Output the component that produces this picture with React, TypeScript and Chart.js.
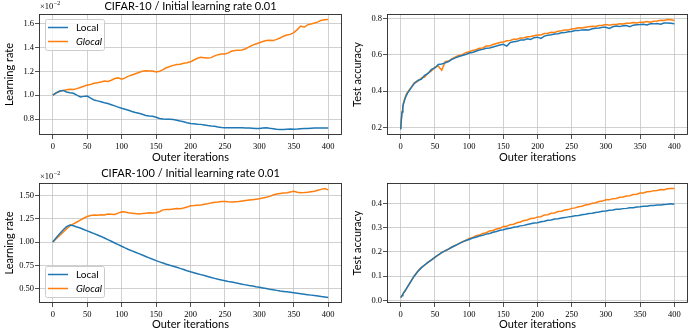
import React, { useEffect, useRef } from "react";
import { Chart, registerables } from "chart.js";
Chart.register(...registerables);

// ---------- data ----------
const ITERS_LR = Array.from({ length: 81 }, (_, i) => i * 5);
const ITERS_ACC = [0, 1, 2, 3, 4, 6, 8].concat(Array.from({ length: 79 }, (_, i) => 10 + i * 5));
const X_TICKS = [0, 50, 100, 150, 200, 250, 300, 350, 400];

const TL_Y_TICKS = [0.8, 1.0, 1.2, 1.4, 1.6];
const TR_Y_TICKS = [0.2, 0.4, 0.6, 0.8];
const BL_Y_TICKS = [0.5, 0.75, 1.0, 1.25, 1.5];
const BR_Y_TICKS = [0.0, 0.1, 0.2, 0.3, 0.4];

const SERIES_NAMES = ["Local", "Glocal"];

// CIFAR-10 learning rate (x 1e-2)
const C10_LR_LOCAL = [
  1.0, 1.02, 1.035, 1.04, 1.027, 1.02, 1.016, 1.0, 0.985, 0.99, 0.993, 0.975, 0.96, 0.952, 0.945, 0.937,
  0.93, 0.92, 0.91, 0.9, 0.89, 0.882, 0.873, 0.863, 0.855, 0.848, 0.84, 0.83, 0.825, 0.823, 0.815, 0.805,
  0.8, 0.798, 0.797, 0.795, 0.79, 0.783, 0.777, 0.768, 0.763, 0.76, 0.757, 0.755, 0.75, 0.745, 0.742, 0.74,
  0.733, 0.729, 0.727, 0.727, 0.727, 0.726, 0.726, 0.727, 0.725, 0.724, 0.722, 0.72, 0.72, 0.724, 0.727,
  0.722, 0.718, 0.714, 0.712, 0.713, 0.715, 0.716, 0.715, 0.716, 0.718, 0.72, 0.72, 0.722, 0.724, 0.725,
  0.724, 0.725, 0.724,
];
const C10_LR_GLOCAL = [
  1.0, 1.02, 1.03, 1.04, 1.045, 1.05, 1.048, 1.055, 1.065, 1.075, 1.085, 1.09, 1.1, 1.105, 1.11, 1.118,
  1.115, 1.125, 1.14, 1.145, 1.135, 1.145, 1.16, 1.17, 1.18, 1.19, 1.2, 1.205, 1.203, 1.202, 1.195, 1.2,
  1.215, 1.23, 1.24, 1.25, 1.258, 1.26, 1.268, 1.272, 1.28, 1.295, 1.31, 1.318, 1.315, 1.312, 1.315, 1.33,
  1.34, 1.345, 1.345, 1.355, 1.37, 1.375, 1.378, 1.38, 1.39, 1.405, 1.42, 1.43, 1.44, 1.45, 1.458, 1.46,
  1.458, 1.468, 1.48, 1.495, 1.505, 1.51, 1.525, 1.55, 1.58, 1.57, 1.59, 1.598, 1.605, 1.615, 1.628, 1.632,
  1.635,
];

// CIFAR-10 test accuracy
const C10_ACC_LOCAL = [
  0.19, 0.245, 0.285, 0.31, 0.33, 0.355, 0.375,
  0.39, 0.417, 0.443, 0.46, 0.466, 0.487, 0.498, 0.52, 0.528, 0.547, 0.55, 0.556, 0.563, 0.576, 0.583,
  0.591, 0.596, 0.602, 0.61, 0.613, 0.62, 0.626, 0.63, 0.636, 0.638, 0.643, 0.648, 0.654, 0.658, 0.648,
  0.667, 0.672, 0.674, 0.681, 0.681, 0.688, 0.684, 0.694, 0.697, 0.69, 0.703, 0.708, 0.71, 0.714, 0.716,
  0.721, 0.722, 0.727, 0.728, 0.733, 0.733, 0.737, 0.738, 0.736, 0.743, 0.746, 0.747, 0.751, 0.751, 0.745,
  0.754, 0.758, 0.755, 0.76, 0.761, 0.755, 0.763, 0.765, 0.766, 0.768, 0.764, 0.77, 0.77, 0.772, 0.768,
  0.775, 0.775, 0.774, 0.771,
];
const C10_ACC_GLOCAL = [
  0.195, 0.25, 0.29, 0.315, 0.335, 0.36, 0.38,
  0.395, 0.42, 0.447, 0.455, 0.472, 0.478, 0.5, 0.512, 0.532, 0.538, 0.515, 0.562, 0.566, 0.578, 0.588,
  0.597, 0.601, 0.612, 0.617, 0.624, 0.628, 0.636, 0.638, 0.648, 0.649, 0.657, 0.662, 0.668, 0.67, 0.677,
  0.679, 0.685, 0.686, 0.693, 0.693, 0.699, 0.701, 0.705, 0.709, 0.709, 0.717, 0.719, 0.724, 0.723, 0.729,
  0.732, 0.737, 0.736, 0.742, 0.744, 0.748, 0.747, 0.751, 0.754, 0.757, 0.756, 0.761, 0.763, 0.766, 0.762,
  0.766, 0.767, 0.77, 0.769, 0.773, 0.774, 0.777, 0.775, 0.779, 0.779, 0.783, 0.779, 0.784, 0.786, 0.79,
  0.789, 0.794, 0.793, 0.789,
];

// CIFAR-100 learning rate (x 1e-2)
const C100_LR_LOCAL = [
  1.0, 1.045, 1.09, 1.13, 1.165, 1.183, 1.175, 1.162, 1.15, 1.135, 1.12, 1.105, 1.09, 1.075, 1.06, 1.043,
  1.025, 1.008, 0.99, 0.972, 0.955, 0.937, 0.92, 0.905, 0.89, 0.875, 0.86, 0.845, 0.83, 0.815, 0.8, 0.787,
  0.775, 0.762, 0.75, 0.74, 0.73, 0.717, 0.705, 0.692, 0.68, 0.67, 0.66, 0.65, 0.64, 0.63, 0.62, 0.61, 0.6,
  0.592, 0.585, 0.577, 0.57, 0.562, 0.555, 0.547, 0.54, 0.533, 0.527, 0.52, 0.514, 0.507, 0.5, 0.493, 0.487,
  0.481, 0.475, 0.47, 0.465, 0.46, 0.455, 0.45, 0.445, 0.44, 0.435, 0.43, 0.425, 0.42, 0.414, 0.409, 0.404,
];
const C100_LR_GLOCAL = [
  1.0, 1.035, 1.07, 1.105, 1.14, 1.175, 1.195, 1.215, 1.235, 1.255, 1.275, 1.285, 1.29, 1.288, 1.292, 1.29,
  1.3, 1.298, 1.295, 1.31, 1.325, 1.322, 1.315, 1.31, 1.305, 1.302, 1.305, 1.31, 1.315, 1.312, 1.315, 1.325,
  1.345, 1.35, 1.35, 1.355, 1.36, 1.358, 1.365, 1.375, 1.39, 1.392, 1.395, 1.398, 1.405, 1.41, 1.42, 1.428,
  1.43, 1.435, 1.435, 1.432, 1.43, 1.433, 1.435, 1.44, 1.445, 1.45, 1.455, 1.46, 1.465, 1.472, 1.48, 1.49,
  1.505, 1.515, 1.52, 1.525, 1.53, 1.538, 1.545, 1.535, 1.53, 1.532, 1.535, 1.54, 1.545, 1.555, 1.565, 1.575,
  1.56,
];

// CIFAR-100 test accuracy
const C100_ACC_LOCAL = [
  0.012, 0.016, 0.02, 0.025, 0.03, 0.038, 0.047,
  0.056, 0.079, 0.101, 0.119, 0.134, 0.146, 0.157, 0.167, 0.177, 0.188, 0.197, 0.205, 0.211, 0.22, 0.226,
  0.234, 0.24, 0.247, 0.251, 0.257, 0.26, 0.265, 0.268, 0.273, 0.276, 0.281, 0.284, 0.289, 0.291, 0.295,
  0.297, 0.301, 0.303, 0.307, 0.309, 0.313, 0.316, 0.319, 0.32, 0.324, 0.326, 0.33, 0.331, 0.335, 0.336,
  0.339, 0.341, 0.344, 0.346, 0.349, 0.35, 0.353, 0.355, 0.358, 0.359, 0.362, 0.364, 0.367, 0.368, 0.371,
  0.372, 0.375, 0.375, 0.378, 0.379, 0.382, 0.382, 0.385, 0.386, 0.388, 0.388, 0.391, 0.391, 0.393, 0.393,
  0.395, 0.396, 0.398, 0.396,
];
const C100_ACC_GLOCAL = [
  0.012, 0.016, 0.02, 0.025, 0.03, 0.038, 0.047,
  0.056, 0.08, 0.102, 0.12, 0.135, 0.145, 0.158, 0.166, 0.178, 0.187, 0.198, 0.203, 0.212, 0.219, 0.228,
  0.233, 0.242, 0.246, 0.255, 0.258, 0.266, 0.269, 0.276, 0.279, 0.286, 0.288, 0.294, 0.297, 0.304, 0.305,
  0.312, 0.314, 0.32, 0.323, 0.329, 0.331, 0.337, 0.338, 0.344, 0.345, 0.352, 0.353, 0.359, 0.36, 0.366,
  0.367, 0.372, 0.374, 0.379, 0.381, 0.386, 0.388, 0.393, 0.395, 0.4, 0.402, 0.407, 0.409, 0.414, 0.414,
  0.419, 0.42, 0.425, 0.426, 0.43, 0.431, 0.436, 0.437, 0.442, 0.442, 0.447, 0.448, 0.452, 0.453, 0.457,
  0.456, 0.46, 0.461, 0.461,
];

// ---------- styling ----------
const BLUE = "#1f77b4";
const ORANGE = "#ff7f0e";
const SANS = "Lato, 'Open Sans', sans-serif";
const SERIF = "'Liberation Serif', 'DejaVu Serif', serif";

function margins(vals: number[]) {
  const lo = Math.min(...vals);
  const hi = Math.max(...vals);
  const m = (hi - lo) * 0.05;
  return [lo - m, hi + m];
}

const decoPlugin = {
  id: "deco",
  afterDraw(chart: any, _args: any, opts: any) {
    const { ctx, chartArea: a } = chart;
    ctx.save();
    // frame
    ctx.strokeStyle = "#262626";
    ctx.lineWidth = 0.9;
    const l = Math.round(a.left) + 0.5;
    const t = Math.round(a.top) + 0.5;
    const r = Math.round(a.right) - 0.5;
    const b = Math.round(a.bottom) - 0.5;
    ctx.strokeRect(l, t, r - l, b - t);

    // title
    if (opts.title) {
      ctx.fillStyle = "#000";
      ctx.font = `11px ${SANS}`;
      ctx.textAlign = "center";
      ctx.textBaseline = "middle";
      ctx.fillText(opts.title, (a.left + a.right) / 2, opts.titleY);
    }
    // offset text  x10^-2
    if (opts.offsetText) {
      ctx.fillStyle = "#000";
      ctx.textAlign = "left";
      ctx.textBaseline = "middle";
      ctx.font = `8.5px ${SERIF}`;
      const x0 = a.left + 1;
      const y0 = opts.offsetY;
      ctx.fillText("\u00d710", x0, y0);
      const w = ctx.measureText("\u00d710").width;
      ctx.font = `6px ${SERIF}`;
      ctx.fillText("\u22122", x0 + w + 0.5, y0 - 3);
    }
    // legend
    if (opts.legend) {
      const w = 59;
      const h = 31;
      const x0 = a.left + 6;
      const y0 = opts.legend === "top" ? a.top + 5 : a.bottom - 6 - h;
      ctx.beginPath();
      (ctx as any).roundRect(x0 + 0.5, y0 + 0.5, w, h, 2);
      ctx.fillStyle = "rgba(255,255,255,0.8)";
      ctx.fill();
      ctx.strokeStyle = "#cccccc";
      ctx.lineWidth = 1;
      ctx.stroke();
      chart.data.datasets.forEach((ds: any, i: number) => {
        const yy = y0 + 8.5 + i * 14;
        ctx.beginPath();
        ctx.moveTo(x0 + 3, yy);
        ctx.lineTo(x0 + 23, yy);
        ctx.strokeStyle = ds.borderColor;
        ctx.lineWidth = 1.5;
        ctx.stroke();
        ctx.fillStyle = "#000";
        ctx.font = `${ds.italic ? "italic " : ""}10px ${SANS}`;
        ctx.textAlign = "left";
        ctx.textBaseline = "middle";
        ctx.fillText(ds.label, x0 + 31, yy + 0.5);
      });
    }
    ctx.restore();
  },
};

type PanelCfg = {
  iters: number[];
  local: number[];
  glocal: number[];
  yTicks: number[];
  decimals: number;
  yLabel: string;
  yWidth: number;
  padTop: number;
  padRight: number;
  xHeight: number;
  yTitlePad: number;
  deco: any;
};

function buildConfig(c: PanelCfg): any {
  const [xmin, xmax] = margins(c.iters);
  const [ymin, ymax] = margins(c.local.concat(c.glocal));
  const mk = (vals: number[]) => c.iters.map((x, i) => ({ x, y: vals[i] }));
  return {
    type: "line",
    data: {
      datasets: [
        { label: SERIES_NAMES[0], data: mk(c.local), borderColor: BLUE, borderWidth: 1.5, pointRadius: 0, italic: false },
        { label: SERIES_NAMES[1], data: mk(c.glocal), borderColor: ORANGE, borderWidth: 1.5, pointRadius: 0, italic: true },
      ],
    },
    options: {
      responsive: false,
      animation: false,
      devicePixelRatio: 1,
      layout: { padding: { top: c.padTop, right: c.padRight, left: 0, bottom: 0 } },
      plugins: { legend: { display: false }, tooltip: { enabled: false }, deco: c.deco },
      scales: {
        x: {
          type: "linear",
          min: xmin,
          max: xmax,
          afterBuildTicks: (s: any) => { s.ticks = X_TICKS.map((v) => ({ value: v })); },
          afterFit: (s: any) => { s.height = c.xHeight; },
          grid: { color: "#c4c4c4", lineWidth: 0.8, tickColor: "#262626", tickLength: 4, tickWidth: 0.8 },
          border: { display: false },
          ticks: { font: { family: SERIF, size: 8.5 }, color: "#000", padding: 3, maxRotation: 0, autoSkip: false,
            callback: (v: number) => String(v) },
          title: { display: true, text: "Outer iterations", font: { family: SANS, size: 11 }, color: "#000",
            padding: { top: 0, bottom: 2.5 } },
        },
        y: {
          type: "linear",
          min: ymin,
          max: ymax,
          afterBuildTicks: (s: any) => { s.ticks = c.yTicks.map((v) => ({ value: v })); },
          afterFit: (s: any) => { s.width = c.yWidth; },
          grid: { color: "#c4c4c4", lineWidth: 0.8, tickColor: "#262626", tickLength: 4, tickWidth: 0.8 },
          border: { display: false },
          ticks: { font: { family: SERIF, size: 8.5 }, color: "#000", padding: 1, autoSkip: false,
            callback: (v: number) => v.toFixed(c.decimals) },
          title: { display: true, text: c.yLabel, font: { family: SANS, size: 11 }, color: "#000",
            padding: { top: c.yTitlePad, bottom: 0 } },
        },
      },
    },
    plugins: [decoPlugin],
  };
}

function Panel({ cfg, left, top }: { cfg: PanelCfg; left: number; top: number }) {
  const ref = useRef<HTMLCanvasElement>(null);
  useEffect(() => {
    const chart = new Chart(ref.current as HTMLCanvasElement, buildConfig(cfg));
    return () => chart.destroy();
  }, []);
  return (
    <canvas
      ref={ref}
      width={345}
      height={167}
      style={{ position: "absolute", left, top, width: 345, height: 167 }}
    />
  );
}

const PANELS: { cfg: PanelCfg; left: number; top: number }[] = [
  {
    left: 0, top: 0,
    cfg: {
      iters: ITERS_LR, local: C10_LR_LOCAL, glocal: C10_LR_GLOCAL, yTicks: TL_Y_TICKS, decimals: 1,
      yLabel: "Learning rate", yWidth: 39, padTop: 14, padRight: 3, xHeight: 32, yTitlePad: 2.5,
      deco: { title: "CIFAR-10 / Initial learning rate 0.01", titleY: 6, offsetText: true, offsetY: 6.5, legend: "top" },
    },
  },
  {
    left: 345, top: 0,
    cfg: {
      iters: ITERS_ACC, local: C10_ACC_LOCAL, glocal: C10_ACC_GLOCAL, yTicks: TR_Y_TICKS, decimals: 1,
      yLabel: "Test accuracy", yWidth: 42, padTop: 14, padRight: 2, xHeight: 32, yTitlePad: 5.5,
      deco: {},
    },
  },
  {
    left: 0, top: 167,
    cfg: {
      iters: ITERS_LR, local: C100_LR_LOCAL, glocal: C100_LR_GLOCAL, yTicks: BL_Y_TICKS, decimals: 2,
      yLabel: "Learning rate", yWidth: 39, padTop: 16, padRight: 3, xHeight: 31, yTitlePad: 2.5,
      deco: { title: "CIFAR-100 / Initial learning rate 0.01", titleY: 6.5, offsetText: true, offsetY: 9.5, legend: "bottom" },
    },
  },
  {
    left: 345, top: 167,
    cfg: {
      iters: ITERS_ACC, local: C100_ACC_LOCAL, glocal: C100_ACC_GLOCAL, yTicks: BR_Y_TICKS, decimals: 1,
      yLabel: "Test accuracy", yWidth: 42, padTop: 16, padRight: 2, xHeight: 31, yTitlePad: 5.5,
      deco: {},
    },
  },
];

export default function App() {
  return (
    <div style={{ position: "absolute", left: 0, top: 0, width: 690, height: 334, background: "#fff" }}>
      {PANELS.map((p, i) => (
        <Panel key={i} cfg={p.cfg} left={p.left} top={p.top} />
      ))}
    </div>
  );
}
